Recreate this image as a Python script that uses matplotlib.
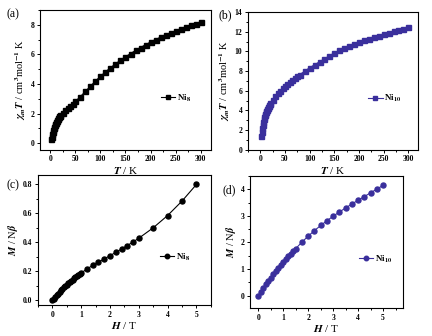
import numpy as np
import matplotlib
matplotlib.use('Agg')
import matplotlib.pyplot as plt
from matplotlib.ticker import AutoMinorLocator

plt.rcParams['font.family'] = 'Liberation Serif'
plt.rcParams['font.weight'] = 'bold'
plt.rcParams['mathtext.fontset'] = 'stix'
plt.rcParams['axes.linewidth'] = 0.8

# (a) Ni8 chiT vs T
T_a = [2, 3, 4, 5, 6, 7, 8, 9, 10, 11, 12, 13, 14, 15, 16, 17, 18, 19, 20,
       25, 30, 35, 40, 45, 50, 60, 70, 80, 90, 100, 110, 120, 130, 140, 150,
       160, 170, 180, 190, 200, 210, 220, 230, 240, 250, 260, 270, 280, 290, 300]
chiT_a = [0.30, 0.45, 0.60, 0.75, 0.88, 1.00, 1.10, 1.20, 1.28, 1.36, 1.44, 1.51,
          1.58, 1.64, 1.70, 1.76, 1.81, 1.86, 1.91,
          2.07, 2.22, 2.37, 2.52, 2.67, 2.82, 3.15, 3.50, 3.85, 4.20, 4.52, 4.82,
          5.10, 5.36, 5.61, 5.84, 6.06, 6.27, 6.47, 6.66, 6.84, 7.01, 7.17, 7.32,
          7.46, 7.59, 7.72, 7.84, 7.96, 8.07, 8.18]

# (b) Ni10 chiT vs T
T_b = [2, 3, 4, 5, 6, 7, 8, 9, 10, 11, 12, 13, 14, 15, 16, 17, 18, 19, 20,
       25, 30, 35, 40, 45, 50, 55, 60, 65, 70, 75, 80, 90, 100, 110, 120, 130,
       140, 150, 160, 170, 180, 190, 200, 210, 220, 230, 240, 250, 260, 270,
       280, 290, 300]
chiT_b = [1.4, 1.8, 2.2, 2.55, 2.85, 3.1, 3.3, 3.5, 3.65, 3.8, 3.95, 4.08, 4.2,
          4.3, 4.4, 4.5, 4.6, 4.68, 4.76, 5.1, 5.45, 5.75, 6.0, 6.25, 6.48, 6.7,
          6.9, 7.1, 7.3, 7.48, 7.65, 8.0, 8.35, 8.65, 8.95, 9.25, 9.55, 9.85,
          10.1, 10.35, 10.55, 10.75, 10.95, 11.15, 11.3, 11.45, 11.6, 11.75,
          11.9, 12.05, 12.2, 12.33, 12.45]

# (c) Ni8 M vs H
H_c = [0, 0.05, 0.1, 0.15, 0.2, 0.25, 0.3, 0.35, 0.4, 0.45, 0.5, 0.55, 0.6,
       0.65, 0.7, 0.75, 0.8, 0.85, 0.9, 0.95, 1.0, 1.2, 1.4, 1.6, 1.8, 2.0,
       2.2, 2.4, 2.6, 2.8, 3.0, 3.5, 4.0, 4.5, 5.0]
M_c = [0.000, 0.010, 0.020, 0.032, 0.044, 0.055, 0.066, 0.077, 0.087, 0.097,
       0.107, 0.116, 0.125, 0.134, 0.142, 0.150, 0.158, 0.166, 0.173, 0.180,
       0.187, 0.215, 0.240, 0.262, 0.285, 0.307, 0.330, 0.353, 0.377, 0.402,
       0.428, 0.500, 0.585, 0.685, 0.800]

# (d) Ni10 M vs H
H_d = [0, 0.1, 0.2, 0.3, 0.4, 0.5, 0.6, 0.7, 0.8, 0.9, 1.0, 1.1, 1.2, 1.3,
       1.4, 1.5, 1.75, 2.0, 2.25, 2.5, 2.75, 3.0, 3.25, 3.5, 3.75, 4.0, 4.25,
       4.5, 4.75, 5.0]
M_d = [0, 0.14, 0.28, 0.42, 0.55, 0.68, 0.81, 0.93, 1.05, 1.16, 1.27, 1.38,
       1.48, 1.58, 1.67, 1.77, 2.02, 2.24, 2.45, 2.64, 2.82, 2.99, 3.15, 3.30,
       3.45, 3.59, 3.73, 3.87, 4.01, 4.15]

black = '#000000'
blue = '#3a2f9c'

fig = plt.figure(figsize=(4.32, 3.36), dpi=100)
ax_a = fig.add_axes([0.093, 0.554, 0.395, 0.416])
ax_b = fig.add_axes([0.574, 0.554, 0.394, 0.410])
ax_c = fig.add_axes([0.088, 0.092, 0.400, 0.387])
ax_d = fig.add_axes([0.579, 0.083, 0.354, 0.393])


def style(ax):
    ax.tick_params(which='both', direction='out', top=False, right=False,
                   labelsize=5.5, width=0.7, pad=1.5)
    ax.tick_params(which='major', length=2.5)
    ax.tick_params(which='minor', length=1.5)
    ax.xaxis.set_minor_locator(AutoMinorLocator(2))
    ax.yaxis.set_minor_locator(AutoMinorLocator(2))
    for lab in ax.get_xticklabels() + ax.get_yticklabels():
        lab.set_fontweight('bold')


ax_a.plot(T_a, chiT_a, 's-', color=black, ms=3.6, lw=0.8, label='Ni$_8$')
ax_a.set_xlim(-20, 320)
ax_a.set_ylim(-0.45, 9)
ax_a.set_xticks([0, 50, 100, 150, 200, 250, 300])
ax_a.set_yticks([0, 2, 4, 6, 8])
ax_a.set_xlabel('$\\mathbfit{T}$ / K', fontsize=8, labelpad=1)
ax_a.set_ylabel('$\\chi_m\\mathbfit{T}$ / cm$^3$mol$^{-1}$ K', fontsize=7.5, labelpad=2)

ax_b.plot(T_b, chiT_b, 's-', color=blue, ms=3.6, lw=0.8, label='Ni$_{10}$')
ax_b.set_xlim(-25, 320)
ax_b.set_ylim(0, 14)
ax_b.set_xticks([0, 50, 100, 150, 200, 250, 300])
ax_b.set_yticks([0, 2, 4, 6, 8, 10, 12, 14])
ax_b.set_xlabel('$\\mathbfit{T}$ / K', fontsize=8, labelpad=1)
ax_b.set_ylabel('$\\chi_m\\mathbfit{T}$ / cm$^3$mol$^{-1}$ K', fontsize=7.5, labelpad=2)

ax_c.plot(H_c, M_c, 'o-', color=black, ms=3.6, lw=0.8, label='Ni$_8$')
ax_c.set_xlim(-0.5, 5.5)
ax_c.set_ylim(-0.035, 0.865)
ax_c.set_xticks([0, 1, 2, 3, 4, 5])
ax_c.set_yticks([0.0, 0.2, 0.4, 0.6, 0.8])
ax_c.set_xlabel('$\\mathbfit{H}$ / T', fontsize=8, labelpad=1)
ax_c.set_ylabel('$\\mathbfit{M}$ / N$\\beta$', fontsize=7.5, labelpad=2)

ax_d.plot(H_d, M_d, 'o-', color=blue, ms=3.6, lw=0.8, label='Ni$_{10}$')
ax_d.set_xlim(-0.33, 5.8)
ax_d.set_ylim(-0.47, 4.5)
ax_d.set_xticks([0, 1, 2, 3, 4, 5])
ax_d.set_yticks([0, 1, 2, 3, 4])
ax_d.set_xlabel('$\\mathbfit{H}$ / T', fontsize=8, labelpad=1)
ax_d.set_ylabel('$\\mathbfit{M}$ / N$\\beta$', fontsize=7.5, labelpad=2)

for ax in (ax_a, ax_b, ax_c, ax_d):
    style(ax)
    ax.legend(loc='center left', bbox_to_anchor=(0.68, 0.37), frameon=False,
              fontsize=6.5, handlelength=1.6, handletextpad=0.2, borderpad=0,
              markerscale=0.9)

fig.text(0.014, 0.958, '(a)', fontsize=8.5, fontweight='normal', va='center')
fig.text(0.505, 0.955, '(b)', fontsize=8.5, fontweight='normal', va='center')
fig.text(0.016, 0.448, '(c)', fontsize=8.5, fontweight='normal', va='center')
fig.text(0.514, 0.435, '(d)', fontsize=8.5, fontweight='normal', va='center')

fig.savefig('out.png', dpi=100)
